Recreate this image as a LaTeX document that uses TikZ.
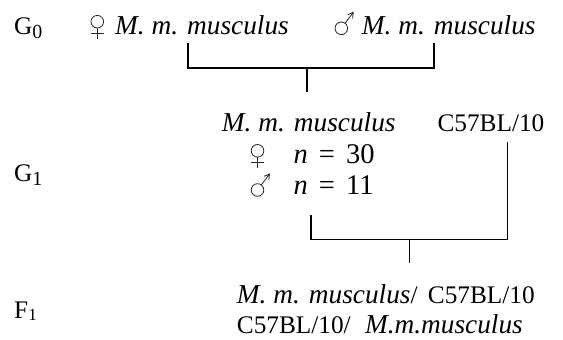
\documentclass[tikz,border=0pt]{standalone}
\usepackage{fontspec}
\setmainfont{Liberation Serif}
% species names are set in a slightly larger italic
\newcommand\spname[1]{{\fontsize{27.3}{30}\selectfont\itshape #1}}
\newcommand\gsub[1]{\raisebox{-4pt}{\fontsize{20}{20}\selectfont #1}}
\newcommand\fsub[1]{\raisebox{-2pt}{\fontsize{17}{18}\selectfont #1}}
\begin{document}
\begin{tikzpicture}[x=1pt,y=-1pt,
  lbl/.style={anchor=base west,inner sep=0pt,font=\fontsize{25.3}{30}\selectfont},
  count/.style={anchor=base west,inner sep=0pt,font=\fontsize{28.5}{30}\selectfont},
  link/.style={line width=1.6pt},
  symline/.style={line width=0.8pt,draw=black!85},
  venus/.pic={
    \draw[symline] (0,0) circle[radius=6.3];
    \draw[symline] (0,6.3) -- (0,17) (-6.5,12) -- (6.5,12);
  },
  mars/.pic={
    \draw[symline] (0,0) circle[radius=6.3];
    \draw[symline] (3.8,-5) -- (12,-16) (6.5,-13.7) -- (12,-16) -- (11.3,-10);
  }]
\useasboundingbox (0,0) rectangle (563,340);
% generation labels
\node[lbl] (g0) at (14,34.3) {G\gsub{0}};
\node[lbl] (g1) at (14,181.7) {G\gsub{1}};
\node[lbl] (f1) at (14,318.3) {F\fsub{1}};
% parental generation
\pic (fem0) at (97.3,21.7) {venus};
\node[lbl] (mmf) at (115,34.3) {\spname{M. m. musculus}};
\pic (mal0) at (341.3,28.3) {mars};
\node[lbl] (mmm) at (361.7,34.3) {\spname{M. m. musculus}};
% first generation
\node[lbl] (mm1) at (221.7,131.7) {\spname{M. m. musculus}};
\node[lbl] (c57) at (437.3,131.7) {C57BL/10};
\pic (fem1) at (257.5,150.8) {venus};
\node[count] (n30) at (293.3,163.3) {\textit{n}\hspace{4pt} =\hspace{4pt} 30};
\pic (mal1) at (257.5,190) {mars};
\node[count] (n11) at (293.3,194.3) {\textit{n}\hspace{4pt} =\hspace{4pt} 11};
% hybrids
\node[lbl] (hy1) at (236.7,303.3) {\spname{M. m. musculus}/\hspace{4pt} C57BL/10};
\node[lbl] (hy2) at (236.7,333.3) {C57BL/10/\hspace{8pt} \spname{M.m.musculus}};
% cross brackets
\coordinate (a1) at (188,43);
\coordinate (a2) at (434,43);
\coordinate (a3) at (306.7,67.7);
\coordinate (a4) at (306.7,91.7);
\draw[link] (a1) |- (a3) -| (a2);
\draw[link] (a3) -- (a4);
\coordinate (b1) at (311,215);
\coordinate (b2) at (507.3,141.7);
\coordinate (b3) at (409.3,239.3);
\coordinate (b4) at (409.3,263.3);
\draw[link] (b1) |- (b3) -| (b2);
\draw[link] (b3) -- (b4);
\end{tikzpicture}
\end{document}
